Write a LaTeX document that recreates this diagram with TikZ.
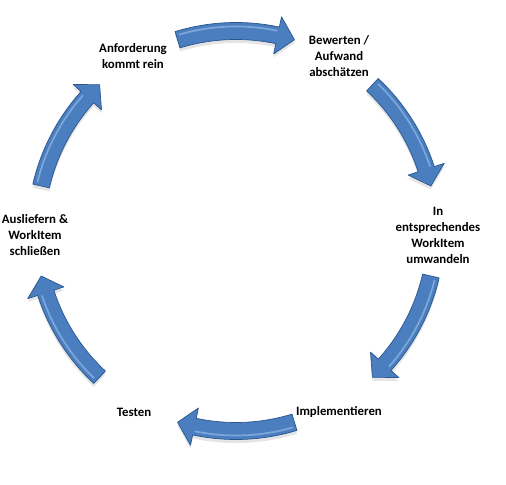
\documentclass[tikz,border=0pt]{standalone}
\usepackage{fontspec}
\setmainfont{Carlito}

\definecolor{arrowblue}{RGB}{74,126,190}
\definecolor{arrowdark}{RGB}{42,86,144}
\definecolor{arrowlight}{RGB}{146,184,230}

\tikzset{
    stepnode/.style={font=\bfseries\fontsize{7.3}{9.1}\selectfont, align=center},
    blockarrow/.style={fill=arrowblue, draw=arrowdark, line width=0.4pt, line join=round},
}

\begin{document}
\begin{tikzpicture}

    \useasboundingbox (-4.72,-5.08) rectangle (5.40,4.62);

    % -------------------------------
    % Schritte
    % -------------------------------
    \node[stepnode] (anforderung) at (-2.06, 3.50) {Anforderung\\kommt rein};
    \node[stepnode] (bewerten)    at (2.06, 3.50)  {Bewerten /\\Aufwand\\abschätzen};
    \node[stepnode] (workitem)    at (4.04, -0.09) {In\\entsprechendes\\WorkItem\\umwandeln};
    \node[stepnode] (implement)   at (2.06, -3.62) {Implementieren};
    \node[stepnode] (testen)      at (-2.04, -3.62) {Testen};
    \node[stepnode] (ausliefern)  at (-4.02, -0.08) {Ausliefern \&\\WorkItem\\schließen};

    % -------------------------------
    % Pfeile im Uhrzeigersinn
    % -------------------------------
    \foreach \a in {90,30,-30,-90,-150,150} {
        \pgfmathsetmacro{\s}{\a+17}
        \pgfmathsetmacro{\h}{\a-12}
        \pgfmathsetmacro{\e}{\a-17}
        \fill[black!10] ([yshift=-2pt]\s:4.17) arc[start angle=\s, end angle=\h, radius=4.17]
            -- ([yshift=-2pt]\h:4.38) -- ([yshift=-2pt]\e:4) -- ([yshift=-2pt]\h:3.62)
            -- ([yshift=-2pt]\h:3.83) arc[start angle=\h, end angle=\s, radius=3.83] -- cycle;
        \draw[blockarrow] (\s:4.17) arc[start angle=\s, end angle=\h, radius=4.17]
            -- (\h:4.38) -- (\e:4) -- (\h:3.62)
            -- (\h:3.83) arc[start angle=\h, end angle=\s, radius=3.83] -- cycle;
        % Glanzlicht
        \draw[arrowlight, line width=1pt, line cap=round, opacity=0.7]
            (\s-1:4.09) arc[start angle=\s-1, end angle=\h+0.5, radius=4.09];
    }

\end{tikzpicture}
\end{document}
